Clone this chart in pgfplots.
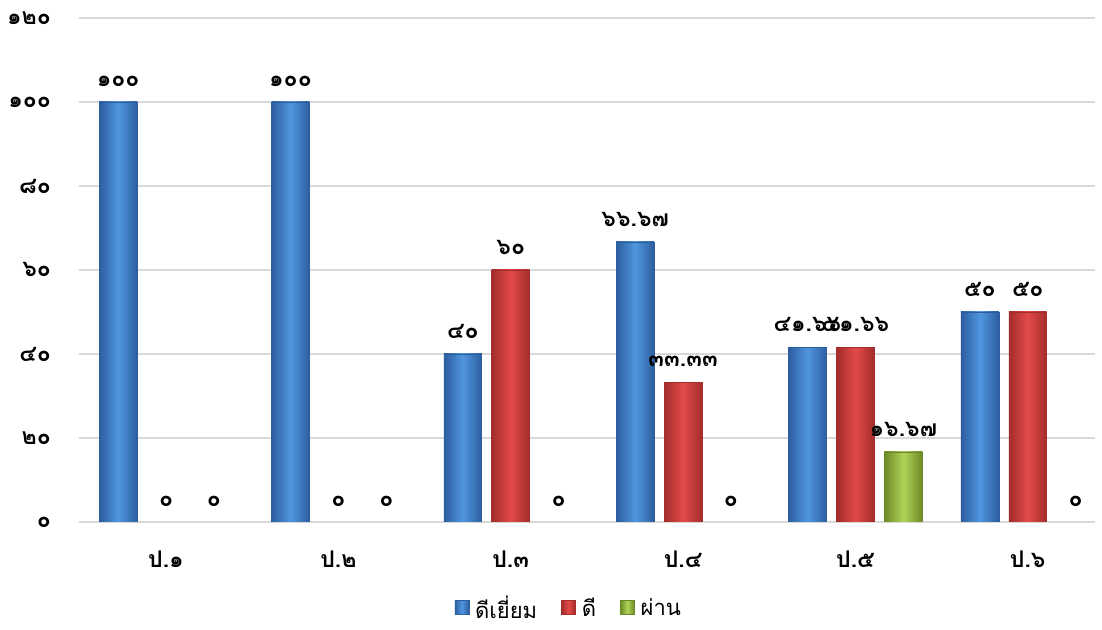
\documentclass[border=0pt]{standalone}
\usepackage{pgfplots}
\pgfplotsset{compat=1.18}
\usepackage{fontspec}
\setmainfont[Script=Thai]{Loma}
\definecolor{bL}{HTML}{5096E0}
\definecolor{bD}{HTML}{2C5E9F}
\definecolor{rL}{HTML}{E24A47}
\definecolor{rD}{HTML}{A32D2B}
\definecolor{gL}{HTML}{B0D458}
\definecolor{gD}{HTML}{6B8A25}
\pgfplotsset{
  B/.style={bar shift=-0.278, draw=bD, line width=0.3pt, left color=bD, right color=bD, middle color=bL},
  R/.style={bar shift=0, draw=rD, line width=0.3pt, left color=rD, right color=rD, middle color=rL},
  G/.style={bar shift=0.278, draw=gD, line width=0.3pt, left color=gD, right color=gD, middle color=gL},
  Z/.style={draw=none, fill=none, shading=none},
}
\begin{document}
\begin{tikzpicture}
\path[use as bounding box] (-39.5pt,-54pt) rectangle (511.5pt,261pt);
\begin{axis}[
  at={(0,0)}, anchor=south west,
  scale only axis, width=508pt, height=252pt,
  ybar, bar width=0.22,
  xmin=-0.505, xmax=5.39, ymin=0, ymax=120,
  xtick={0,...,5}, xticklabels={ป.๑,ป.๒,ป.๓,ป.๔,ป.๕,ป.๖},
  ytick={0,20,...,120}, yticklabels={๐,๒๐,๔๐,๖๐,๘๐,๑๐๐,๑๒๐},
  ymajorgrids, grid style={gray!30, line width=0.8pt},
  axis line style={draw=none}, major tick length=0pt,
  yticklabel style={xshift=-10.5pt, font=\bfseries\fontsize{11.5}{11.5}\selectfont},
  xticklabel style={yshift=-11pt, font=\bfseries\fontsize{11.5}{11.5}\selectfont},
  nodes near coords, point meta=explicit symbolic,
  nodes near coords style={font=\bfseries\fontsize{11.5}{11.5}\selectfont, yshift=4pt},
  legend columns=3,
  legend style={at={(0.483,-0.172)}, anchor=center, draw=none, fill=none,
    font=\fontsize{11}{11}\selectfont,
    /tikz/every odd column/.append style={column sep=1pt},
    /tikz/every even column/.append style={column sep=10pt}},
  legend image code/.code={\draw[#1] (0pt,-3pt) rectangle (7pt,4pt);},
]
% ดีเยี่ยม
\addplot[B] coordinates {(0,100) [๑๐๐]};
\addlegendentry{ดีเยี่ยม}
\addplot[B, forget plot] coordinates {(1,100) [๑๐๐]};
\addplot[B, forget plot] coordinates {(2,40) [๔๐]};
\addplot[B, forget plot] coordinates {(3,66.67) [๖๖.๖๗]};
\addplot[B, forget plot] coordinates {(4,41.66) [๔๑.๖๖]};
\addplot[B, forget plot] coordinates {(5,50) [๕๐]};
% ดี
\addplot[R] coordinates {(2,60) [๖๐]};
\addlegendentry{ดี}
\addplot[R, Z, forget plot] coordinates {(0,0) [๐]};
\addplot[R, Z, forget plot] coordinates {(1,0) [๐]};
\addplot[R, forget plot] coordinates {(3,33.33) [๓๓.๓๓]};
\addplot[R, forget plot] coordinates {(4,41.66) [๔๑.๖๖]};
\addplot[R, forget plot] coordinates {(5,50) [๕๐]};
% ผ่าน
\addplot[G] coordinates {(4,16.67) [๑๖.๖๗]};
\addlegendentry{ผ่าน}
\addplot[G, Z, forget plot] coordinates {(0,0) [๐]};
\addplot[G, Z, forget plot] coordinates {(1,0) [๐]};
\addplot[G, Z, forget plot] coordinates {(2,0) [๐]};
\addplot[G, Z, forget plot] coordinates {(3,0) [๐]};
\addplot[G, Z, forget plot] coordinates {(5,0) [๐]};
\end{axis}
\end{tikzpicture}
\end{document}
